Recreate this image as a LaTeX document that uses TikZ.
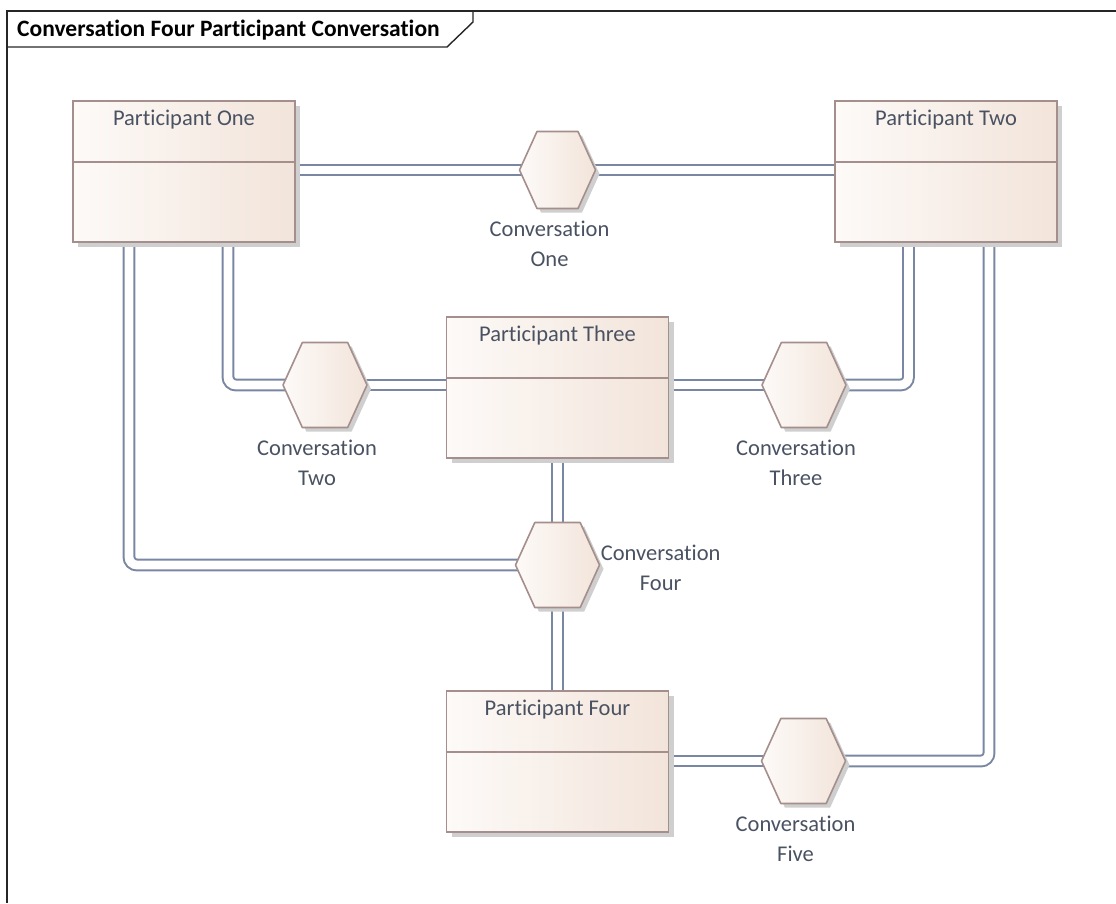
\documentclass[tikz,border=0pt]{standalone}
\usepackage{fontspec}
\setmainfont{Carlito}[Ligatures={NoCommon,NoDiscretionary,NoContextual}]
\usetikzlibrary{calc,shadows,backgrounds}
\definecolor{boxL}{HTML}{FDFAF8}
\definecolor{boxR}{HTML}{F2E4DA}
\definecolor{boxB}{HTML}{A48F8C}
\definecolor{connC}{HTML}{7A87A3}
\definecolor{txt}{HTML}{4A5262}
\definecolor{shad}{HTML}{CFCFCF}
\newcommand\lbf{\fontsize{22.5}{30}\selectfont}
\newcommand\hexshape[3]{%
  \fill[shad, shift={(#1.center)}, xshift=4pt, yshift=-4pt]
    (-#2/2,0) -- (-#2*0.27,-#3/2) -- (#2*0.27,-#3/2) -- (#2/2,0) -- (#2*0.27,#3/2) -- (-#2*0.27,#3/2) -- cycle;
  \path[hexdraw, shift={(#1.center)}]
    (-#2/2,0) -- (-#2*0.27,-#3/2) -- (#2*0.27,-#3/2) -- (#2/2,0) -- (#2*0.27,#3/2) -- (-#2*0.27,#3/2) -- cycle;
}
\begin{document}
\begin{tikzpicture}[x=1pt,y=-1pt,
  participant/.style={rectangle, draw=boxB, line width=1.6pt, left color=boxL, right color=boxR,
    minimum width=222pt, minimum height=141pt, inner sep=0pt,
    drop shadow={shadow xshift=5pt, shadow yshift=-5pt, fill=shad, opacity=1}},
  ptitle/.style={anchor=center, yshift=-19pt, text=txt, font=\lbf, inner sep=0pt},
  hexanchor/.style={rectangle, inner sep=0pt, minimum width=#1pt},
  hexdraw/.style={draw=boxB, line width=1.6pt, left color=boxL, right color=boxR, line join=round},
  lbl/.style={align=center, text=txt, font=\lbf, inner sep=0pt},
  conn/.style={draw=connC, line width=2pt, double=white, double distance=8.8pt, rounded corners=8pt},
  frame/.style={draw=black!85, line width=1.4pt}]
\useasboundingbox (0,0) rectangle (1116,903);
% frame
\draw[frame] (7,903) -- (7,11) -- (1116,11);
\draw[frame] (7,47) -- (447,47) -- (473,22) -- (473,11);
\node[anchor=west, inner sep=0pt, font=\bfseries\fontsize{23.5}{28}\selectfont] (title) at (17,30) {Conversation Four Participant Conversation};
% participants
\node[participant, label={[ptitle]north:Participant One}] (p1) at (184,171.5) {};
\node[participant, label={[ptitle]north:Participant Two}] (p2) at (946,171.5) {};
\node[participant, label={[ptitle]north:Participant Three}] (p3) at (557.5,387.5) {};
\node[participant, label={[ptitle]north:Participant Four}] (p4) at (557.5,761.5) {};
\foreach \p in {p1,p2,p3,p4}
  \draw[boxB, line width=1.6pt] ($(\p.north west)+(0,62)$) -- ($(\p.north east)+(0,62)$);
% conversation anchors
\node[hexanchor=76, minimum height=77pt] (c1) at (557.5,170) {};
\node[hexanchor=84, minimum height=85pt] (c2) at (325,385) {};
\node[hexanchor=84, minimum height=85pt] (c3) at (804,385) {};
\node[hexanchor=84, minimum height=85pt] (c4) at (557.5,565) {};
\node[hexanchor=84, minimum height=85pt] (c5) at (803.5,761) {};
% connectors
\begin{scope}[on background layer]
\draw[conn] (p1.center |- c1.center) -- (c1.center) -- (p2.center |- c1.center);
\draw[conn] ($(p1.center)+(44,0)$) |- (c2.center);
\draw[conn] (c2.center) -- (p3.center |- c2.center);
\draw[conn] ($(p1.center)+(-55,0)$) |- (c4.center);
\draw[conn] (p3.center) -- (p4.center);
\draw[conn] (p3.center |- c3.center) -- (c3.center);
\draw[conn] (c3.center) -| ($(p2.center)+(-37.5,0)$);
\draw[conn] ($(p2.center)+(43,0)$) |- (c5.center);
\draw[conn] (p4.center |- c5.center) -- (c5.center);
\end{scope}
% hexagons
\hexshape{c1}{76}{77}
\hexshape{c2}{84}{85}
\hexshape{c3}{84}{85}
\hexshape{c4}{84}{85}
\hexshape{c5}{84}{85}
% labels
\node[lbl] (l1) at ($(c1.south)+(-8,35)$) {Conversation\\One};
\node[lbl] (l2) at ($(c2.south)+(-8,35)$) {Conversation\\Two};
\node[lbl] (l3) at ($(c3.south)+(-8,35)$) {Conversation\\Three};
\node[lbl] (l4) at ($(c4.east)+(61,3)$) {Conversation\\Four};
\node[lbl] (l5) at ($(c5.south)+(-8,35)$) {Conversation\\Five};
\end{tikzpicture}
\end{document}
